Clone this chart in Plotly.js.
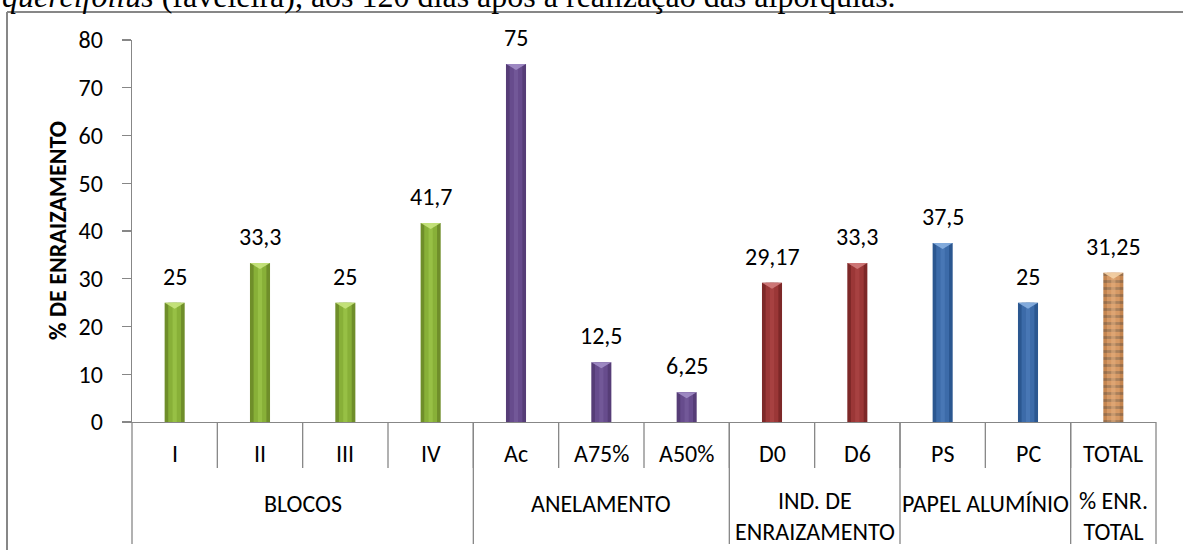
<!DOCTYPE html>
<html>
<head>
<meta charset="utf-8">
<script src="https://cdn.plot.ly/plotly-3.0.1.min.js"></script>
<style>html,body{margin:0;padding:0;background:#fff;}#chart{width:1183px;height:550px;}</style>
</head>
<body>
<div id="chart"></div>
<script>
// ---- data ----
var categories = ['I', 'II', 'III', 'IV', 'Ac', 'A75%', 'A50%', 'D0', 'D6', 'PS', 'PC', 'TOTAL'];
var values = [25, 33.3, 25, 41.7, 75, 12.5, 6.25, 29.17, 33.3, 37.5, 25, 31.25];
var groupNames = ['BLOCOS', 'ANELAMENTO', 'IND. DE<br>ENRAIZAMENTO', 'PAPEL ALUMÍNIO', '% ENR.<br>TOTAL'];
var groupSizes = [4, 3, 2, 2, 1];
var yTicks = [0, 10, 20, 30, 40, 50, 60, 70, 80];
var yTitle = '% DE ENRAIZAMENTO';
var captionText = '<i>quercifolius</i> (faveleira), aos 120 dias após a realização das alporquias.';

// ---- styles ----
var groupEdge  = ['#6f8e2a', '#563d77', '#7d2828', '#2b5790', '#c4854f'];
var groupMid   = ['#8db63b', '#6a4f90', '#a03a3a', '#3f6eae', '#d99d69'];
var groupLight = ['#a6cf52', '#7d64a4', '#b44c4c', '#5484c2', '#e6b182'];
var groupBevel = ['#c8e47e', '#a28ec6', '#d27c7c', '#88b0e0', '#f5d2a6'];
var FONT = 'Carlito, Lato, "Open Sans", sans-serif';
var FS = 24;
var GRAY = '#878787';

var L = 132, R = 1156, T = 40, B = 422, W = 1183, H = 550;
var PW = R - L, PH = B - T;
function px(xp) { return (xp - L) / PW; }
function py(yp) { return (B - yp) / PH; }

var groupOf = [];
groupSizes.forEach(function (n, g) { for (var k = 0; k < n; k++) groupOf.push(g); });
var nCat = categories.length;
function pick(arr) { return groupOf.map(function (g) { return arr[g]; }); }
var stripe = categories.map(function (c, i) { return groupOf[i] === 4 ? '-' : ''; });

var traces = [
  {type: 'bar', x: categories, y: values, width: 0.235,
   marker: {color: pick(groupEdge), line: {width: 0},
            pattern: {shape: stripe, fillmode: 'overlay', fgcolor: '#a8693c', fgopacity: 0.35, size: 7, solidity: 0.4}},
   hoverinfo: 'x+y'},
  {type: 'bar', x: categories, y: values, width: 0.15,
   marker: {color: pick(groupMid), opacity: 0.85, line: {width: 0},
            pattern: {shape: stripe, fillmode: 'overlay', fgcolor: '#b27445', fgopacity: 0.3, size: 7, solidity: 0.4}},
   hoverinfo: 'skip'},
  {type: 'bar', x: categories, y: values, width: 0.05,
   marker: {color: pick(groupLight), opacity: 0.5, line: {width: 0}},
   hoverinfo: 'skip'}
];

var annotations = [];
var txtFont = {family: FONT, size: FS, color: '#000'};
// value labels
values.forEach(function (v, i) {
  annotations.push({x: categories[i], y: v, xref: 'x', yref: 'y', yanchor: 'bottom', yshift: 10,
    text: String(v).replace('.', ','), showarrow: false, font: txtFont});
});
// first-row category labels
categories.forEach(function (c, i) {
  annotations.push({x: c, y: py(453), xref: 'x', yref: 'paper', yanchor: 'middle',
    text: c, showarrow: false, font: txtFont});
});
// group labels
var shapes = [];
var start = 0;
groupNames.forEach(function (g, gi) {
  var n = groupSizes[gi];
  var center = (start + start + n) / 2 / nCat;
  var nLines = g.split('<br>').length;
  annotations.push({x: center, y: py(503 + 12.5 * (nLines - 1)), xref: 'paper', yref: 'paper',
    yanchor: 'middle', xanchor: 'center', align: 'center',
    text: g, showarrow: false, font: txtFont});
  start += n;
});
// y title
annotations.push({x: px(57), y: 0.5, xref: 'paper', yref: 'paper', xanchor: 'center', yanchor: 'middle',
  textangle: -90, text: '<b>' + yTitle + '</b>', showarrow: false, font: {family: FONT, size: 24, color: '#000'}});
// caption (cut off at top, as in the source page)
annotations.push({x: px(0), y: py(16), xref: 'paper', yref: 'paper', xanchor: 'left', yanchor: 'bottom',
  text: captionText, showarrow: false, font: {family: '"Liberation Serif", "Times New Roman", serif', size: 32, color: '#000'}});

// category separators (first row)
for (var i = 1; i < nCat; i++) {
  shapes.push({type: 'line', xref: 'paper', yref: 'paper', x0: i / nCat, x1: i / nCat, y0: 0, y1: py(468),
    line: {color: GRAY, width: 1.3}});
}
// group dividers
var acc = 0;
[0].concat(groupSizes).forEach(function (n) {
  acc += n;
  shapes.push({type: 'line', xref: 'paper', yref: 'paper', x0: acc / nCat, x1: acc / nCat, y0: 0, y1: py(544),
    line: {color: GRAY, width: 1.3}});
});
// bevel triangles on top of bars
values.forEach(function (v, i) {
  shapes.push({type: 'path', xref: 'x', yref: 'y', xsizemode: 'pixel', ysizemode: 'pixel',
    xanchor: categories[i], yanchor: v, path: 'M -10 0 L 10 0 L 0 -6 Z',
    fillcolor: groupBevel[groupOf[i]], line: {width: 0}, opacity: 0.9});
});
// outer frame (left and top)
shapes.push({type: 'line', xref: 'paper', yref: 'paper', x0: px(7), x1: px(7), y0: py(12), y1: py(560),
  line: {color: GRAY, width: 2}});
shapes.push({type: 'line', xref: 'paper', yref: 'paper', x0: px(7), x1: px(1190), y0: py(12), y1: py(12),
  line: {color: GRAY, width: 2}});

var layout = {
  width: W, height: H,
  margin: {l: L, r: W - R, t: T, b: H - B, pad: 0},
  paper_bgcolor: '#fff', plot_bgcolor: '#fff',
  barmode: 'overlay',
  showlegend: false,
  font: txtFont,
  xaxis: {type: 'category', range: [-0.5, nCat - 0.5], showticklabels: false, ticks: '',
          showline: true, linecolor: GRAY, linewidth: 1.3, showgrid: false, zeroline: false, fixedrange: true},
  yaxis: {range: [0, 80], tickvals: yTicks, ticktext: yTicks.map(String), ticks: 'outside', ticklen: 9,
          tickcolor: GRAY, tickwidth: 1.3, showline: true, linecolor: GRAY, linewidth: 1.3,
          showgrid: false, zeroline: false, tickfont: txtFont,
          ticklabelstandoff: 14, fixedrange: true},
  annotations: annotations,
  shapes: shapes
};

Plotly.newPlot('chart', traces, layout, {displayModeBar: false, staticPlot: true});
</script>
</body>
</html>
